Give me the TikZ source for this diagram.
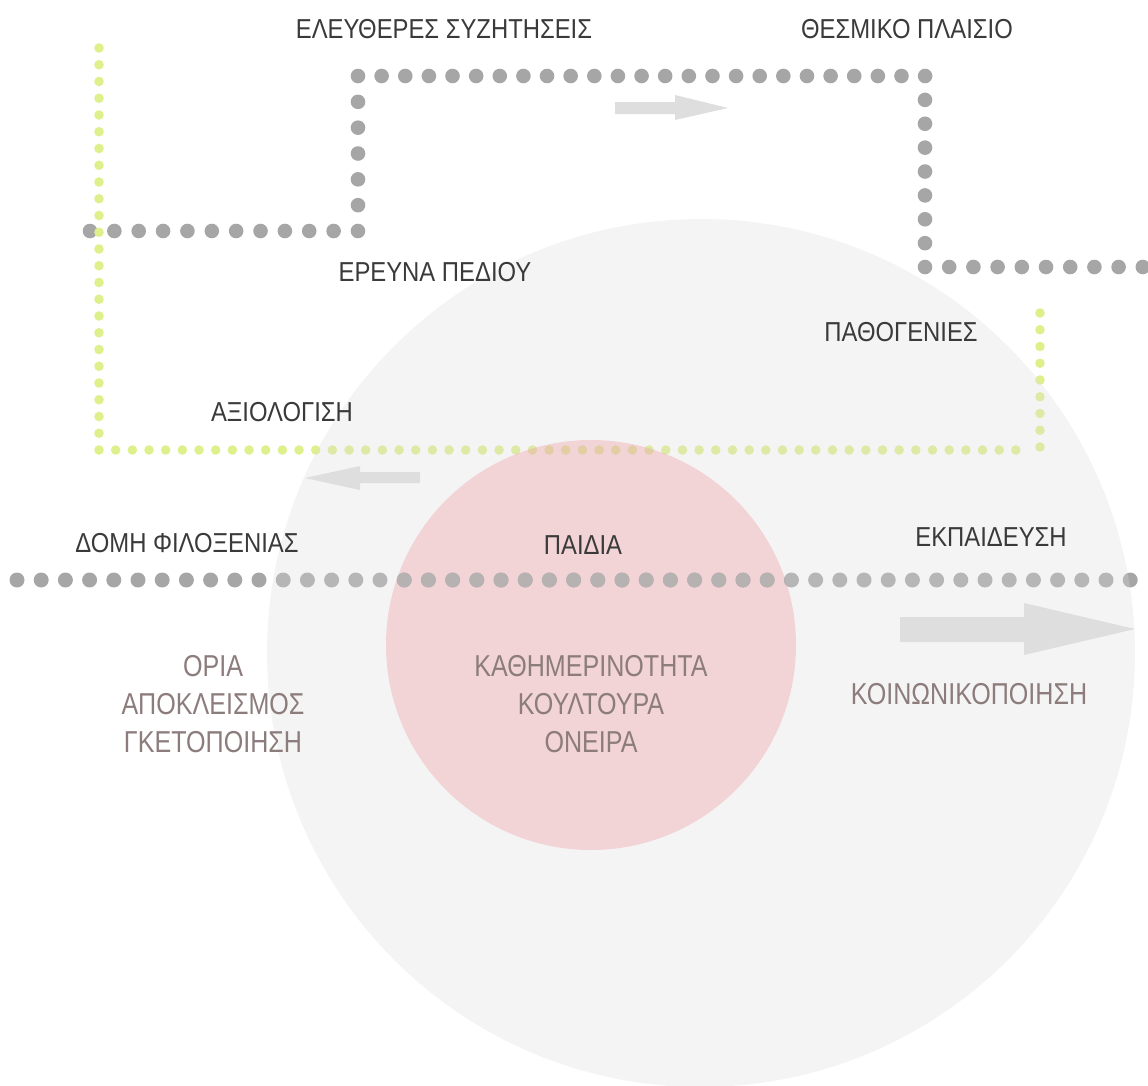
\documentclass[tikz,border=0pt]{standalone}
\usepackage{fontspec}
\setmainfont{Liberation Sans}
\newfontfamily\headfont{Liberation Sans}[FakeStretch=0.87]
\newfontfamily\softfont{Liberation Sans}[FakeStretch=0.83]
\definecolor{dotgray}{RGB}{166,166,166}
\definecolor{dotpale}{RGB}{182,178,178}
\definecolor{dotgreen}{RGB}{222,240,140}
\definecolor{bigdisc}{RGB}{220,220,220}
\definecolor{pinkdisc}{RGB}{238,160,166}
\definecolor{arrowgray}{RGB}{222,222,222}
\definecolor{labeldark}{RGB}{58,58,58}
\definecolor{labelsoft}{RGB}{140,124,124}
\tikzset{
	headline/.style={text=labeldark, font=\headfont\fontsize{19.5}{23}\selectfont},
	softline/.style={text=labelsoft, align=center, font=\softfont\fontsize{21.5}{27}\selectfont},
	arrowfill/.style={fill=arrowgray},
}
\begin{document}
\begin{tikzpicture}[x=0.25mm, y=-0.25mm]
	\useasboundingbox (0,0) rectangle (1148,1086);
	% gray dotted route, top
	\foreach \i in {0,...,11} \fill[dotgray] (90+\i*24.36,231) circle (7.3);
	\foreach \i in {1,...,6} \fill[dotgray] (358,231-\i*25.83) circle (7.3);
	\foreach \i in {1,...,24} \fill[dotgray] (358+\i*23.63,76) circle (7.3);
	\foreach \i in {1,...,8} \fill[dotgray] (925,76+\i*23.88) circle (7.3);
	\foreach \i in {1,...,9} \fill[dotgray] (925+\i*24.2,267) circle (7.3);
	% gray dotted row, middle
	\foreach \i in {0,...,46} \fill[dotgray] (17+\i*24.2,580) circle (7.5);
	% green dotted route
	\foreach \i in {0,...,24} \fill[dotgreen] (99,48+\i*16.75) circle (4.8);
	\foreach \i in {1,...,55} \fill[dotgreen] (99+\i*16.67,450) circle (4.8);
	\foreach \i in {0,...,8} \fill[dotgreen] (1040,313+\i*16.75) circle (4.8);
	% discs
	\fill[bigdisc, fill opacity=0.3] (701,653) circle (434);
	\fill[pinkdisc, fill opacity=0.38] (591,645) circle (205);
	\begin{scope}
		\clip (591,645) circle (205);
		\foreach \i in {0,...,46} \fill[dotpale] (17+\i*24.2,580) circle (7.5);
	\end{scope}
	% arrows
	\fill[arrowfill] (615,102) -- (675,102) -- (675,95) -- (728,108) -- (675,120) -- (675,114) -- (615,114) -- cycle;
	\fill[arrowfill] (420,472) -- (360,472) -- (360,466) -- (305,478) -- (360,490) -- (360,483) -- (420,483) -- cycle;
	\fill[arrowfill] (900,617) -- (1024,617) -- (1024,603) -- (1135,629) -- (1024,655) -- (1024,642) -- (900,642) -- cycle;
	% labels
	\node[headline] (freetalk) at (444,29) {ΕΛΕΥΘΕΡΕΣ ΣΥΖΗΤΗΣΕΙΣ};
	\node[headline] (framework) at (907,29) {ΘΕΣΜΙΚΟ ΠΛΑΙΣΙΟ};
	\node[headline] (fieldwork) at (435,272) {ΕΡΕΥΝΑ ΠΕΔΙΟΥ};
	\node[headline] (pathology) at (901,332) {ΠΑΘΟΓΕΝΙΕΣ};
	\node[headline] (assessment) at (282,412) {ΑΞΙΟΛΟΓΙΣΗ};
	\node[headline] (shelter) at (187,543) {ΔΟΜΗ ΦΙΛΟΞΕΝΙΑΣ};
	\node[headline] (children) at (583,545) {ΠΑΙΔΙΑ};
	\node[headline] (education) at (991,537) {ΕΚΠΑΙΔΕΥΣΗ};
	\node[softline] (limits) at (213,704) {ΟΡΙΑ\\ΑΠΟΚΛΕΙΣΜΟΣ\\ΓΚΕΤΟΠΟΙΗΣΗ};
	\node[softline] (everyday) at (591,704) {ΚΑΘΗΜΕΡΙΝΟΤΗΤΑ\\ΚΟΥΛΤΟΥΡΑ\\ΟΝΕΙΡΑ};
	\node[softline] (social) at (969,694) {ΚΟΙΝΩΝΙΚΟΠΟΙΗΣΗ};
\end{tikzpicture}
\end{document}
